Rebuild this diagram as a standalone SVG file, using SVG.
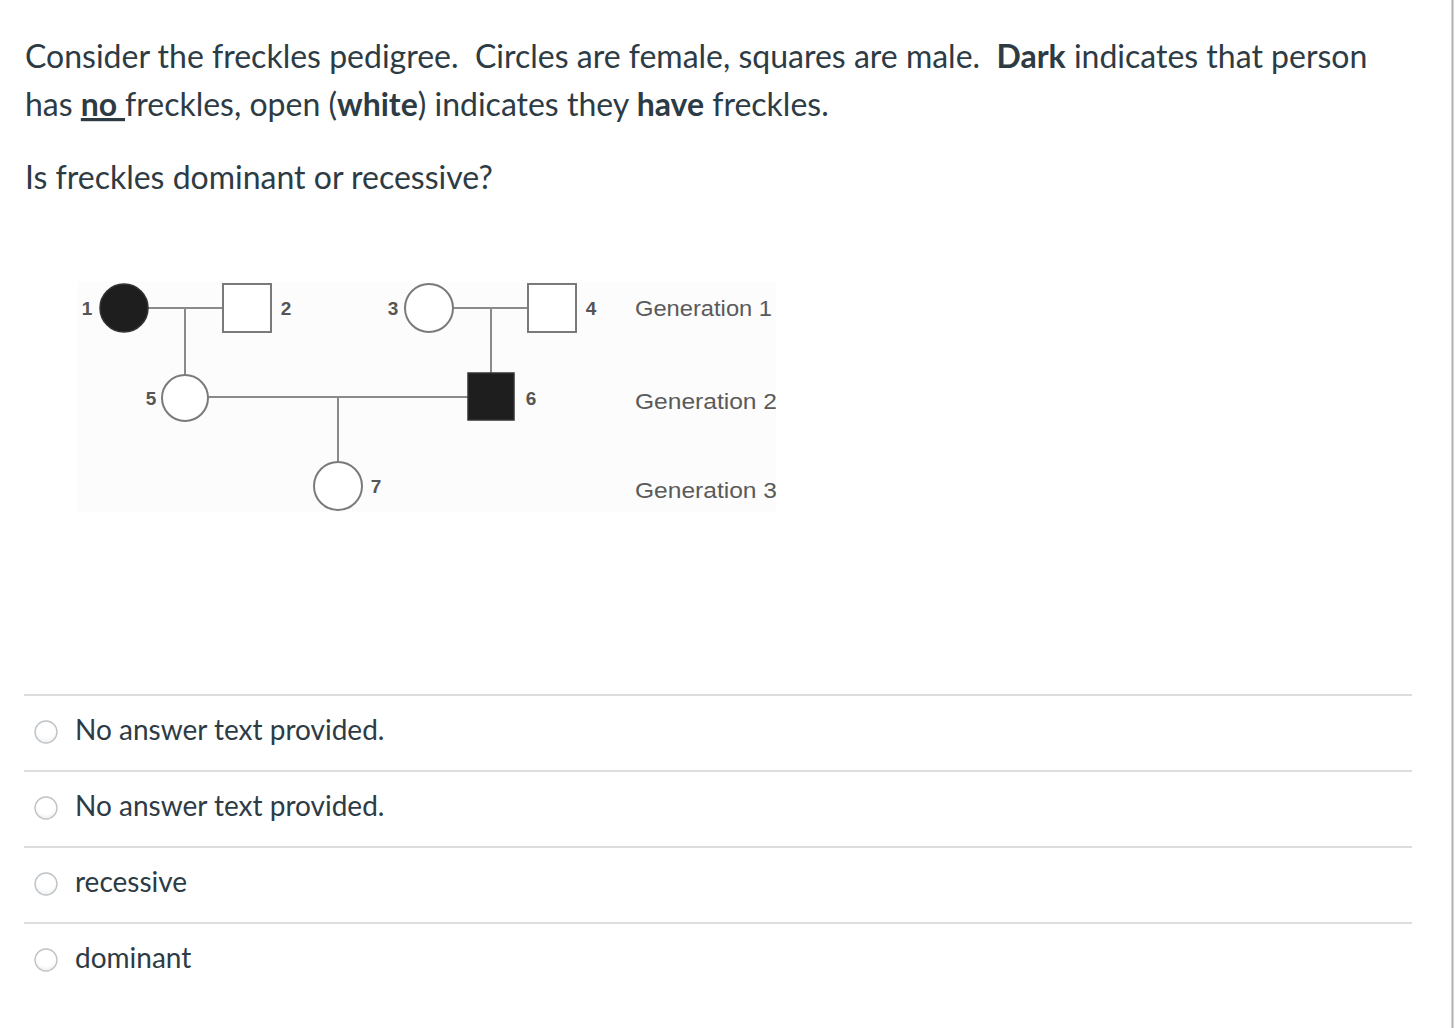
<svg xmlns="http://www.w3.org/2000/svg" width="1456" height="1028" viewBox="0 0 1456 1028">
<style>
.q{font-family:Lato,"Open Sans",sans-serif;font-size:32px;fill:#2d3b45;white-space:pre}
.o{font-family:Lato,"Open Sans",sans-serif;font-size:28px;fill:#2d3b45}
.b{font-weight:bold}
.sep{stroke:#dddddd;stroke-width:2}
.radio{fill:url(#rg);stroke:#bfc4c8;stroke-width:1.4}
.ln{stroke:#8a8a8a;stroke-width:2;fill:none}
.open{fill:#ffffff;stroke:#7a7a7a;stroke-width:2}
.dark{fill:#1e1e1e;stroke:#333;stroke-width:1.5}
.num{font-family:"Liberation Sans",Arial,sans-serif;font-size:19px;fill:#555;font-weight:bold}
.gen{font-family:"Liberation Sans",Arial,sans-serif;font-size:22px;fill:#5a5a5a}
</style>
<defs>
<radialGradient id="rg" cx="0.5" cy="0.35" r="0.7">
<stop offset="0.6" stop-color="#ffffff"/>
<stop offset="1" stop-color="#e8eaec"/>
</radialGradient>
</defs>
<rect width="1456" height="1028" fill="#ffffff"/>
<line x1="1452.5" y1="0" x2="1452.5" y2="1028" stroke="#b0b0b0" stroke-width="2"/>

<g id="question">
<text class="q" x="25" y="68" xml:space="preserve">Consider the freckles pedigree.  Circles are female, squares are male.  <tspan class="b">Dark</tspan> indicates that person</text>
<text class="q" x="25" y="116" xml:space="preserve">has <tspan class="b" text-decoration="underline">no </tspan>freckles, open (<tspan class="b">white</tspan>) indicates they <tspan class="b">have</tspan> freckles.</text>
<text class="q" x="25" y="189">Is freckles dominant or recessive?</text>
</g>

<rect x="78" y="282" width="698" height="230" fill="#fcfcfc"/>

<g id="connectors">
<line class="ln" x1="147" y1="308" x2="223" y2="308"/>
<line class="ln" x1="185" y1="308" x2="185" y2="375"/>
<line class="ln" x1="453" y1="308" x2="528" y2="308"/>
<line class="ln" x1="491" y1="308" x2="491" y2="373"/>
<line class="ln" x1="208" y1="397" x2="468" y2="397"/>
<line class="ln" x1="338" y1="397" x2="338" y2="462"/>
</g>

<g id="p1"><circle class="dark" cx="124" cy="308" r="24"/><text class="num" x="87" y="315" text-anchor="middle">1</text></g>
<g id="p2"><rect class="open" x="223" y="284" width="48" height="48"/><text class="num" x="286" y="315" text-anchor="middle">2</text></g>
<g id="p3"><circle class="open" cx="429" cy="308" r="24"/><text class="num" x="393" y="315" text-anchor="middle">3</text></g>
<g id="p4"><rect class="open" x="528" y="284" width="48" height="48"/><text class="num" x="591" y="315" text-anchor="middle">4</text></g>
<g id="p5"><circle class="open" cx="185" cy="398" r="23"/><text class="num" x="151" y="405" text-anchor="middle">5</text></g>
<g id="p6"><rect class="dark" x="468" y="373" width="46" height="47"/><text class="num" x="531" y="405" text-anchor="middle">6</text></g>
<g id="p7"><circle class="open" cx="338" cy="486" r="24"/><text class="num" x="376" y="493" text-anchor="middle">7</text></g>

<g id="generations">
<text class="gen" x="635" y="316" textLength="137" lengthAdjust="spacingAndGlyphs">Generation 1</text>
<text class="gen" x="635" y="409" textLength="142" lengthAdjust="spacingAndGlyphs">Generation 2</text>
<text class="gen" x="635" y="498" textLength="142" lengthAdjust="spacingAndGlyphs">Generation 3</text>
</g>

<g id="answers">
<line class="sep" x1="24" y1="695" x2="1412" y2="695"/>
<line class="sep" x1="24" y1="771" x2="1412" y2="771"/>
<line class="sep" x1="24" y1="847" x2="1412" y2="847"/>
<line class="sep" x1="24" y1="923" x2="1412" y2="923"/>
<g id="opt1"><circle class="radio" cx="46" cy="732" r="11"/><text class="o" x="75" y="740">No answer text provided.</text></g>
<g id="opt2"><circle class="radio" cx="46" cy="808" r="11"/><text class="o" x="75" y="816">No answer text provided.</text></g>
<g id="opt3"><circle class="radio" cx="46" cy="884" r="11"/><text class="o" x="75" y="892">recessive</text></g>
<g id="opt4"><circle class="radio" cx="46" cy="960" r="11"/><text class="o" x="75" y="968">dominant</text></g>
</g>
</svg>
